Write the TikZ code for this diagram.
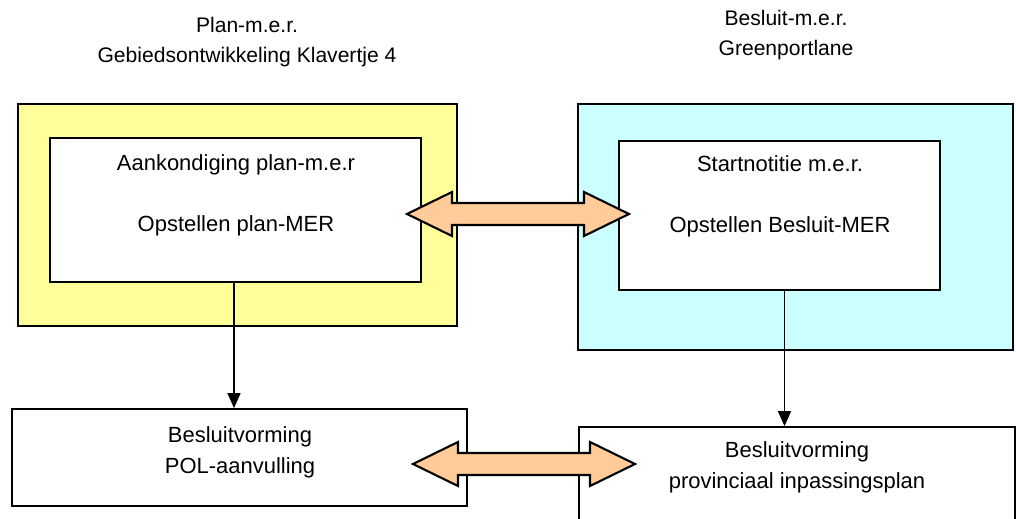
\documentclass[tikz,border=0pt]{standalone}
\usepackage{fontspec}
\setmainfont{Liberation Sans}
\usetikzlibrary{arrows.meta,positioning}
\definecolor{planyellow}{HTML}{FFFF99}
\definecolor{mercyan}{HTML}{CCFFFF}
\definecolor{linkorange}{HTML}{FFCC99}

\begin{document}
\begin{tikzpicture}[x=0.02cm, y=0.02cm, line width=1pt,
	title/.style={align=center, font=\fontsize{12}{17.5}\selectfont},
	txt/.style={align=center, font=\fontsize{12.5}{17.6}\selectfont},
	box/.style={draw, inner sep=0},
	link/.style={draw, fill=linkorange, line width=1.2pt, line join=miter},
	down/.style={-{Triangle[length=0.3cm,width=0.26cm]}, line width=0.8pt}]
		\useasboundingbox (0,0) rectangle (1016,-519);
		% titles
		\node[title, anchor=base] (plantitle) at (247,-63) {Plan-m.e.r.\\Gebiedsontwikkeling Klavertje 4};
		\node[title, anchor=base] (mertitle) at (786,-56) {Besluit-m.e.r.\\Greenportlane};
		% plan-m.e.r.
		\node[box, fill=planyellow, minimum width=8.78cm, minimum height=4.44cm] (planbox) at (237.5,-215) {};
		\node[box, fill=white, minimum width=7.42cm, minimum height=2.88cm] (planstep) at (235.5,-210) {};
		\node[txt, anchor=base] (plantxt) at (236,-232) {Aankondiging plan-m.e.r\\[\baselineskip]Opstellen plan-MER};
		% besluit-m.e.r.
		\node[box, fill=mercyan, minimum width=8.7cm, minimum height=4.92cm] (merbox) at (795.5,-227) {};
		\node[box, fill=white, minimum width=6.42cm, minimum height=2.98cm] (merstep) at (779.5,-215.5) {};
		\node[txt, anchor=base] (mertxt) at (780,-233) {Startnotitie m.e.r.\\[\baselineskip]Opstellen Besluit-MER};
		% besluitvorming
		\node[box, fill=white, minimum width=9.1cm, minimum height=1.94cm] (polbox) at (239.5,-457.5) {};
		\node[txt, anchor=base] (poltxt) at (240,-473) {Besluitvorming\\POL-aanvulling};
		\node[box, fill=white, minimum width=8.72cm, minimum height=2.66cm] (pipbox) at (797,-493.5) {};
		\node[txt, anchor=base] (piptxt) at (797,-488) {Besluitvorming\\provinciaal inpassingsplan};
		% connectors
		\draw[down] ([xshift=-0.03cm]planstep.south) -- ([xshift=-0.03cm]planstep.south |- polbox.north);
		\draw[down] ([xshift=0.1cm]merstep.south) -- ([xshift=0.1cm]merstep.south |- pipbox.north);
		% block arrows
		\coordinate (toplink) at (518,-214);
		\coordinate (botlink) at (524,-464);
		\foreach \c in {toplink,botlink}
			\draw[link] (\c) ++(-111,0) -- ++(45,22) -- ++(0,-11) -- ++(132,0) -- ++(0,11) -- ++(45,-22)
				-- ++(-45,-22) -- ++(0,11) -- ++(-132,0) -- ++(0,-11) -- cycle;
	\end{tikzpicture}
\end{document}
